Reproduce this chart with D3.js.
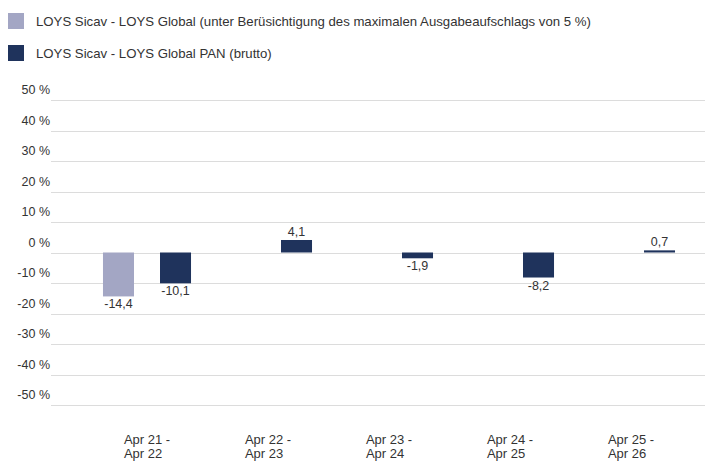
<!DOCTYPE html>
<html><head><meta charset="utf-8">
<script src="https://cdn.jsdelivr.net/npm/d3@7"></script>
<style>body{margin:0;background:#fff}svg{display:block}text{font-family:"Liberation Sans",Arial,sans-serif}</style>
</head><body>
<script>
const categories = [["Apr 21 -","Apr 22"],["Apr 22 -","Apr 23"],["Apr 23 -","Apr 24"],["Apr 24 -","Apr 25"],["Apr 25 -","Apr 26"]];
const seriesNames = ["LOYS Sicav - LOYS Global (unter Berüsichtigung des maximalen Ausgabeaufschlags von 5 %)","LOYS Sicav - LOYS Global PAN (brutto)"];
const seriesGlobal = [-14.4, null, null, null, null];
const seriesPAN = [-10.1, 4.1, -1.9, -8.2, 0.7];
const yTicks = [50,40,30,20,10,0,-10,-20,-30,-40,-50];
const colors = ["#a3a6c4","#1f335c"];

const W=723,H=462;
const svg=d3.select("body").append("svg").attr("width",W).attr("height",H);
const y=d3.scaleLinear().domain([-50,50]).range([405,100]);
const x=d3.scaleBand().domain(d3.range(categories.length)).range([86.5,691.5]).padding(0);
const xs=d3.scaleBand().domain([0,1]).range([0,x.bandwidth()]).paddingInner(0.456).paddingOuter(0.289);

// grid
svg.append("g").selectAll("line").data(yTicks).join("line")
 .attr("x1",51).attr("x2",705).attr("y1",d=>Math.round(y(d))+0.5).attr("y2",d=>Math.round(y(d))+0.5)
 .attr("stroke","#dcdcdc").attr("stroke-width",1);
svg.append("g").selectAll("text").data(yTicks).join("text")
 .attr("x",50).attr("y",d=>y(d)-6).attr("text-anchor","end")
 .attr("font-size",12.5).attr("fill","#333").text(d=>d+" %");

// legend
seriesNames.forEach((n,i)=>{
  svg.append("rect").attr("x",8).attr("y",13+i*32).attr("width",16).attr("height",16).attr("fill",colors[i]);
  svg.append("text").attr("x",36).attr("y",26+i*32).attr("font-size",13.2).attr("fill","#333").text(n);
});

const fmt=v=>d3.format(".1f")(v).replace(".",",").replace("\u2212","-");
const series=[seriesGlobal,seriesPAN];
series.forEach((s,si)=>{
  const g=svg.append("g");
  const data=s.map((v,i)=>({v,i})).filter(d=>d.v!=null);
  g.selectAll("rect").data(data).join("rect")
   .attr("x",d=>x(d.i)+xs(si)).attr("width",xs.bandwidth())
   .attr("y",d=>y(Math.max(0,d.v))).attr("height",d=>Math.abs(y(d.v)-y(0)))
   .attr("fill",colors[si]);
  g.selectAll("text").data(data).join("text")
   .attr("x",d=>x(d.i)+xs(si)+xs.bandwidth()/2)
   .attr("y",d=>d.v<0? y(d.v)+12 : y(d.v)-4)
   .attr("text-anchor","middle").attr("font-size",12.5).attr("fill","#333").text(d=>fmt(d.v));
});

// category labels
categories.forEach((c,i)=>{
  const cx=x(i)+x.bandwidth()/2;
  const t=svg.append("text").attr("font-size",13).attr("fill","#333");
  const t1=t.append("tspan").attr("y",444).text(c[0]);
  const w=t1.node().getComputedTextLength();
  t1.attr("x",cx-w/2);
  t.append("tspan").attr("x",cx-w/2).attr("y",458).text(c[1]);
});
</script>
</body></html>
